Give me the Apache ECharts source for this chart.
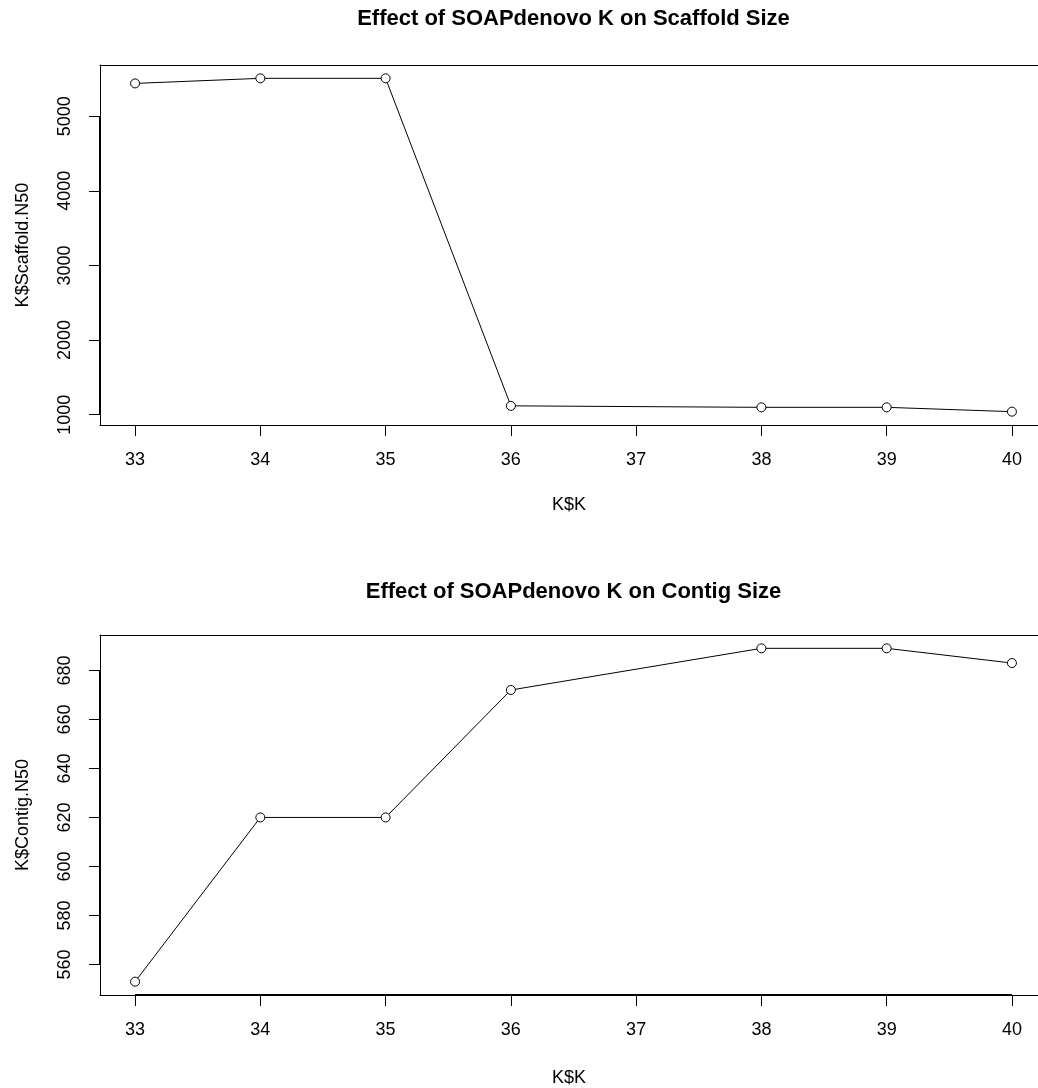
<!DOCTYPE html>
<html>
<head>
<meta charset="utf-8">
<script src="https://cdn.jsdelivr.net/npm/echarts@6/dist/echarts.min.js"></script>
<style>html,body{margin:0;padding:0;background:#fff}#c{width:1038px;height:1088px}</style>
</head>
<body>
<div id="c"></div>
<script>
// ---- data ----
const kValues = [33, 34, 35, 36, 38, 39, 40];
const scaffoldN50 = [5440, 5508, 5508, 1118, 1098, 1098, 1040];
const contigN50 = [553, 620, 620, 672, 689, 689, 683];
const xTicks = [33, 34, 35, 36, 37, 38, 39, 40];
const scaffoldTicks = [1000, 2000, 3000, 4000, 5000];
const contigTicks = [560, 580, 600, 620, 640, 660, 680];
const title1 = 'Effect of SOAPdenovo K on Scaffold Size';
const title2 = 'Effect of SOAPdenovo K on Contig Size';
const xName = 'K$K';
const yName1 = 'K$Scaffold.N50';
const yName2 = 'K$Contig.N50';

// R-style axis range: data range extended by 4% each side
function rRange(arr) {
  const lo = Math.min.apply(null, arr), hi = Math.max.apply(null, arr);
  const d = (hi - lo) * 0.04;
  return [lo - d, hi + d];
}
const xr = rRange(kValues);
const y1r = rRange(scaffoldN50);
const y2r = rRange(contigN50);
// the original plot region (947px) runs past the 1038px canvas edge; show only the visible part
const PLOT_W = 947, LEFT = 100, CANVAS_W = 1038;
const VIS_W = CANVAS_W - LEFT;
const xMaxVisible = xr[0] + (xr[1] - xr[0]) * VIS_W / PLOT_W;

const FONT = 'Liberation Sans, Arial, Helvetica, sans-serif';
const grids = [
  {left: LEFT, top: 65, width: VIS_W, height: 360},
  {left: LEFT, top: 635, width: VIS_W, height: 360}
];
const plain = v => String(Math.round(v));

function xAxisDef(i, gap) {
  return {
    type: 'value', gridIndex: i, min: xr[0], max: xMaxVisible, position: 'bottom',
    name: xName, nameLocation: 'middle', nameGap: gap,
    nameTextStyle: {fontFamily: FONT, fontSize: 18, color: '#000'},
    axisLine: {show: true, onZero: false, lineStyle: {color: '#000', width: 1}},
    axisTick: {show: true, length: 11, customValues: xTicks, lineStyle: {color: '#000', width: 1}},
    axisLabel: {show: true, customValues: xTicks, margin: 26, formatter: plain, fontFamily: FONT, fontSize: 18, color: '#000'},
    splitLine: {show: false}
  };
}
function xTopDef(i) {
  return {
    type: 'value', gridIndex: i, min: xr[0], max: xMaxVisible, position: 'top',
    axisLine: {show: true, onZero: false, lineStyle: {color: '#000', width: 1}},
    axisTick: {show: false}, axisLabel: {show: false}, splitLine: {show: false}
  };
}
function yAxisDef(i, r, ticks, name) {
  return {
    type: 'value', gridIndex: i, min: r[0], max: r[1],
    name: name, nameLocation: 'middle', nameGap: 68,
    nameTextStyle: {fontFamily: FONT, fontSize: 18, color: '#000'},
    axisLine: {show: true, onZero: false, lineStyle: {color: '#000', width: 1}},
    axisTick: {show: true, length: 11, customValues: ticks, lineStyle: {color: '#000', width: 1}},
    axisLabel: {show: true, customValues: ticks, rotate: 90, margin: 26, formatter: plain, fontFamily: FONT, fontSize: 18, color: '#000'},
    splitLine: {show: false}
  };
}
function seriesDef(i, ys, ticks, yr, thickX) {
  const segs = [
    [{coord: [xr[0], ticks[0]]}, {coord: [xr[0], ticks[ticks.length - 1]]}]
  ];
  if (thickX) segs.push([{coord: [xTicks[0], yr[0]]}, {coord: [xTicks[xTicks.length - 1], yr[0]]}]);
  return {
    type: 'line', xAxisIndex: i * 2, yAxisIndex: i,
    data: kValues.map((k, j) => [k, ys[j]]),
    symbol: 'circle', symbolSize: 9, showSymbol: true,
    lineStyle: {color: '#000', width: 1},
    itemStyle: {color: '#fff', borderColor: '#000', borderWidth: 1},
    animation: false, silent: true,
    markLine: {
      silent: true, symbol: 'none', animation: false,
      label: {show: false},
      lineStyle: {color: '#000', type: 'solid', width: 2},
      data: segs
    }
  };
}

const chart = echarts.init(document.getElementById('c'), null, {renderer: 'canvas'});
const cx = LEFT + PLOT_W / 2;
chart.setOption({
  animation: false,
  backgroundColor: '#fff',
  grid: grids.map(g => Object.assign({show: false}, g)),
  xAxis: [xAxisDef(0, 71), xTopDef(0), xAxisDef(1, 74), xTopDef(1)],
  yAxis: [yAxisDef(0, y1r, scaffoldTicks, yName1), yAxisDef(1, y2r, contigTicks, yName2)],
  series: [seriesDef(0, scaffoldN50, scaffoldTicks, y1r, false), seriesDef(1, contigN50, contigTicks, y2r, true)],
  graphic: [
    {type: 'text', x: cx, y: 19, style: {text: title1, textAlign: 'center', textVerticalAlign: 'middle', font: 'bold 22px ' + FONT, fill: '#000'}},
    {type: 'text', x: cx, y: 592, style: {text: title2, textAlign: 'center', textVerticalAlign: 'middle', font: 'bold 22px ' + FONT, fill: '#000'}}
  ]
});
</script>
</body>
</html>
